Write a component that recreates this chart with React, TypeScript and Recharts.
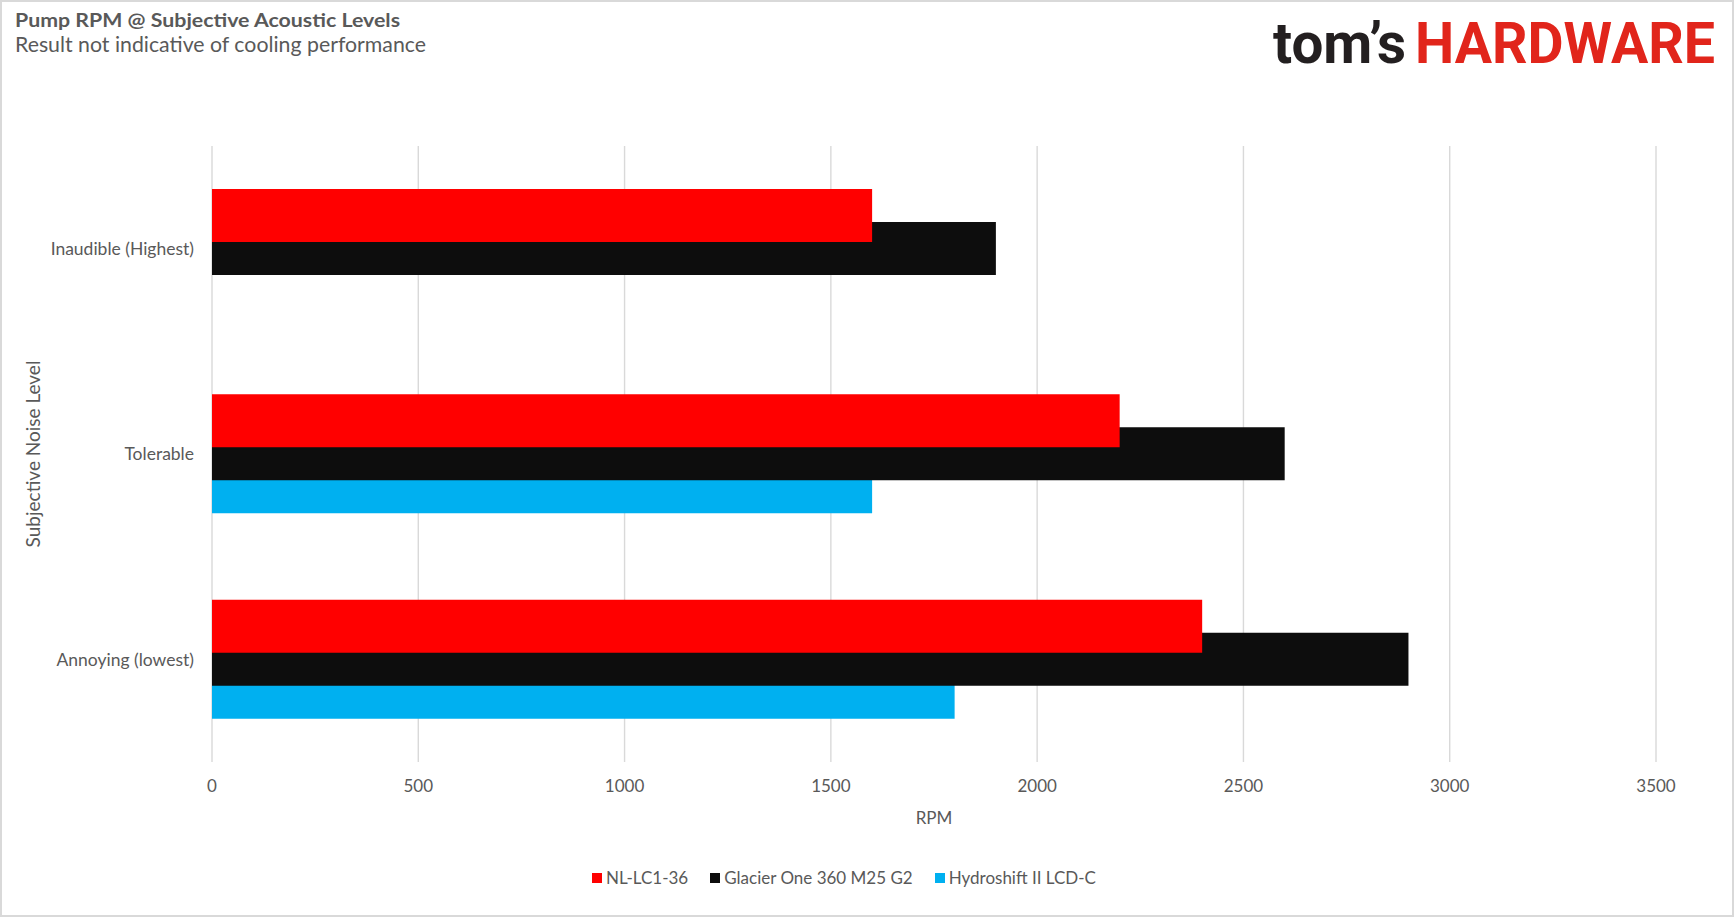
import { BarChart, Bar, XAxis, YAxis, CartesianGrid, Legend } from "recharts";

const FONT = "Lato, 'Open Sans', sans-serif";
const TEXT = "#595959";
const GRID = "#d9d9d9";

const categories = ["Inaudible (Highest)", "Tolerable", "Annoying (lowest)"];
const nlLc136 = [1600, 2200, 2400];
const glacierOne360 = [1900, 2600, 2900];
const hydroshiftII = [null, 1600, 1800];
const rpmTicks = [0, 500, 1000, 1500, 2000, 2500, 3000, 3500];
const bandEdges = [0, 1, 2, 3];

// z order: red drawn over black, black over blue (as in the Excel original)
const series = [
    { key: "nl", name: "NL-LC1-36", color: "#ff0000", values: nlLc136, z: 303 },
    { key: "glacier", name: "Glacier One 360 M25 G2", color: "#0d0d0d", values: glacierOne360, z: 302 },
    { key: "hydro", name: "Hydroshift II LCD-C", color: "#00b0f0", values: hydroshiftII, z: 301 },
];

const data = categories.map((c, i) => {
    const row: Record<string, any> = { name: c };
    series.forEach((s) => { row[s.key] = s.values[i]; });
    return row;
});

const LegendContent = () => (
    <div style={{ display: "flex", alignItems: "center", paddingLeft: 592, paddingTop: 35, fontFamily: FONT, fontSize: 17, color: TEXT }}>
        {series.map((s) => (
            <span key={s.key} style={{ display: "flex", alignItems: "center", marginRight: 22 }}>
                <span style={{ width: 10, height: 10, background: s.color, marginRight: 4 }} />
                {s.name}
            </span>
        ))}
    </div>
);

export default function App() {
    return (
        <div style={{ position: "absolute", left: 0, top: 0, width: 1735, height: 918, background: "#fff", fontFamily: FONT }}>
            <BarChart width={1735} height={918} data={data} layout="vertical"
                margin={{ top: 146, right: 79, bottom: 0, left: 0 }} barSize={53} barGap={-20}>
                <CartesianGrid horizontal={false} stroke={GRID} strokeWidth={1.4} />
                <XAxis type="number" domain={[0, 3500]} ticks={rpmTicks} axisLine={false} tickLine={false}
                    tickMargin={12} height={70} tick={{ fill: TEXT, fontSize: 17, fontFamily: FONT }}
                    label={{ value: "RPM", position: "insideBottom", offset: 8, fill: TEXT, fontSize: 17, fontFamily: FONT }} />
                <YAxis yAxisId="frame" type="number" domain={[0, 3]} ticks={bandEdges} allowDataOverflow
                    width={0} stroke={GRID} strokeWidth={1.5} tickFormatter={() => ""} />
                <YAxis type="category" dataKey="name" width={212} axisLine={false} tickLine={false} tickMargin={12}
                    tick={{ fill: TEXT, fontSize: 17.5, fontFamily: FONT }}
                    label={{ value: "Subjective Noise Level", angle: -90, position: "insideLeft", offset: 33, fill: TEXT, fontSize: 19, fontFamily: FONT, style: { textAnchor: "middle" } }} />
                {series.map((s) => (
                    <Bar key={s.key} dataKey={s.key} name={s.name} fill={s.color} isAnimationActive={false} zIndex={s.z} />
                ))}
                <Legend verticalAlign="bottom" content={<LegendContent />}
                    wrapperStyle={{ left: 0, width: 1735, height: 86, bottom: 0 }} />
            </BarChart>
            <svg width={1735} height={918} style={{ position: "absolute", left: 0, top: 0, pointerEvents: "none" }}>
                <rect x={1} y={1} width={1732} height={915} fill="none" stroke={GRID} strokeWidth={2} />
                <text x={15} y={27} fontFamily={FONT} fontWeight={700} fontSize={19} fill={TEXT}
                    textLength={385} lengthAdjust="spacingAndGlyphs">Pump RPM @ Subjective Acoustic Levels</text>
                <text x={15} y={52} fontFamily={FONT} fontSize={21} fill={TEXT}
                    textLength={411} lengthAdjust="spacingAndGlyphs">Result not indicative of cooling performance</text>
                <text x={1273} y={63} fontFamily="Roboto, sans-serif" fontWeight={700} fontSize={57} fill="#231f20"
                    textLength={133} lengthAdjust="spacingAndGlyphs">tom’s</text>
                <text x={1415} y={63} fontFamily="Roboto, sans-serif" fontWeight={700} fontSize={57} fill="#e1251b"
                    textLength={300} lengthAdjust="spacingAndGlyphs">HARDWARE</text>
            </svg>
        </div>
    );
}
